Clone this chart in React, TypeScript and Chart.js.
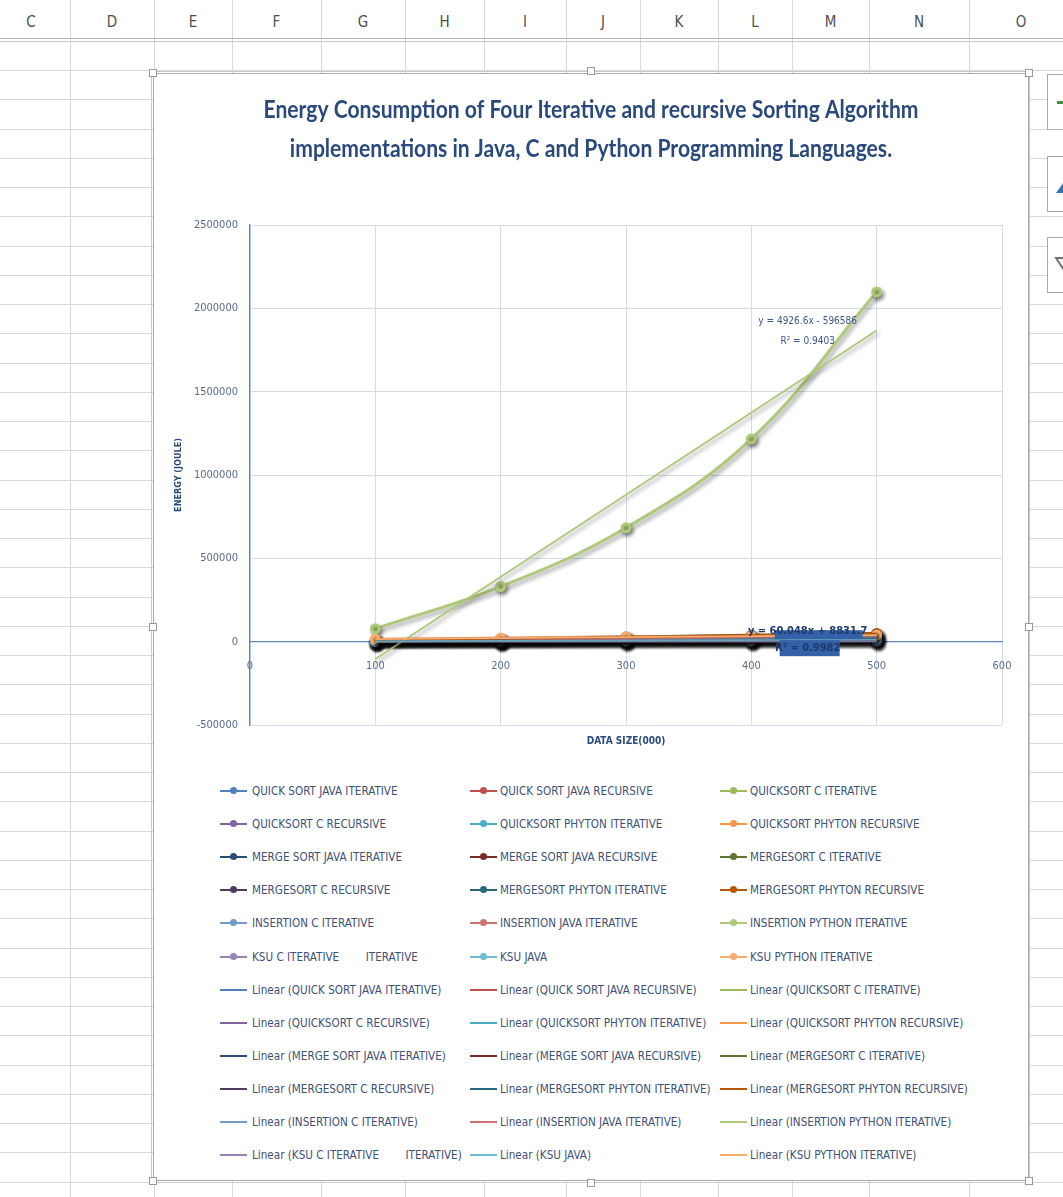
import React, { useEffect, useRef } from "react";
import { Chart, registerables } from "chart.js";

Chart.register(...registerables);

// ---------------- DATA ----------------
const dataSizes = [100, 200, 300, 400, 500];

const seriesNames = [
  "QUICK SORT JAVA ITERATIVE",
  "QUICK SORT JAVA RECURSIVE",
  "QUICKSORT C ITERATIVE",
  "QUICKSORT C RECURSIVE",
  "QUICKSORT PHYTON ITERATIVE",
  "QUICKSORT PHYTON RECURSIVE",
  "MERGE SORT JAVA ITERATIVE",
  "MERGE SORT JAVA RECURSIVE",
  "MERGESORT C ITERATIVE",
  "MERGESORT C RECURSIVE",
  "MERGESORT PHYTON ITERATIVE",
  "MERGESORT PHYTON RECURSIVE",
  "INSERTION C ITERATIVE",
  "INSERTION JAVA ITERATIVE",
  "INSERTION PYTHON ITERATIVE",
  "KSU C ITERATIVE        ITERATIVE",
  "KSU JAVA",
  "KSU PYTHON ITERATIVE",
];

const seriesColors = [
  "#4F81BD", "#C0504D", "#9BBB59", "#8064A2", "#4BACC6", "#F79646",
  "#2C4D75", "#772C2A", "#5F7530", "#4D3B62", "#276A7C", "#B65708",
  "#729ACA", "#CD7371", "#AFC97A", "#9983B5", "#6FBDD1", "#F9AB6B",
];

const quickSortJavaIterative = [3200, 6900, 10800, 14900, 19100];
const quickSortJavaRecursive = [3500, 7400, 11600, 16000, 20500];
const quickSortCIterative = [610, 1290, 2010, 2750, 3520];
const quickSortCRecursive = [520, 1080, 1690, 2310, 2960];
const quickSortPythonIterative = [6900, 14500, 22600, 31000, 39800];
const quickSortPythonRecursive = [7300, 15300, 23800, 32700, 41900];
const mergeSortJavaIterative = [4100, 8500, 13200, 18000, 23100];
const mergeSortJavaRecursive = [4600, 9400, 14500, 19800, 25300];
const mergeSortCIterative = [680, 1400, 2170, 2980, 3800];
const mergeSortCRecursive = [750, 1540, 2390, 3270, 4180];
const mergeSortPythonIterative = [8000, 16700, 25900, 35700, 45800];
const mergeSortPythonRecursive = [8600, 17900, 27800, 38200, 49000];
const insertionCIterative = [1100, 4300, 9700, 17200, 26900];
const insertionJavaIterative = [1600, 6200, 13900, 24800, 38700];
const insertionPythonIterative = [78055, 330622, 683286, 1216682, 2098325];
const ksuCIterative = [400, 820, 1270, 1740, 2230];
const ksuJava = [2300, 4700, 7200, 9800, 12500];
const ksuPythonIterative = [14500, 21000, 27456.5, 32500, 38774];

const seriesValues = [
  quickSortJavaIterative, quickSortJavaRecursive, quickSortCIterative,
  quickSortCRecursive, quickSortPythonIterative, quickSortPythonRecursive,
  mergeSortJavaIterative, mergeSortJavaRecursive, mergeSortCIterative,
  mergeSortCRecursive, mergeSortPythonIterative, mergeSortPythonRecursive,
  insertionCIterative, insertionJavaIterative, insertionPythonIterative,
  ksuCIterative, ksuJava, ksuPythonIterative,
];

// series whose trendline equation labels are visible
const labelledSeries = [14, 17];

const titleLines = [
  "Energy Consumption of Four Iterative and recursive Sorting Algorithm",
  "implementations in Java, C and Python Programming Languages.",
];
const xAxisTitle = "DATA SIZE(000)";
const yAxisTitle = "ENERGY (JOULE)";
const xMin = 0, xMax = 600, xStep = 100;
const yMin = -500000, yMax = 2500000, yStep = 500000;

const columnLetters = ["C", "D", "E", "F", "G", "H", "I", "J", "K", "L", "M", "N", "O"];

// ---------------- STYLE ----------------
const FONT = "'Liberation Sans Narrow', 'DejaVu Sans Condensed', 'Arial Narrow', sans-serif";
const TITLE_FONT = "Lato, 'Open Sans', sans-serif";
const TITLE_COLOR = "#2B4A7C";
const TICK_COLOR = "#5A6C89";
const AXIS_COLOR = "#5D86C4";
const GRID_COLOR = "#D3DCE8";
const LEGEND_TEXT = "#3E5276";
const SHEET_LINE = "#D8D8D8";
const TITLE_WIDTH = 655;
const TITLE_LINE_Y = [37, 76];

const colBounds = [-8, 70, 154, 232, 321, 405, 484, 566, 640, 718, 792, 869, 969, 1073];

function linearFit(xs: number[], ys: number[]) {
  const n = xs.length;
  const mx = xs.reduce((a, b) => a + b, 0) / n;
  const my = ys.reduce((a, b) => a + b, 0) / n;
  let sxy = 0, sxx = 0, syy = 0;
  for (let i = 0; i < n; i++) {
    sxy += (xs[i] - mx) * (ys[i] - my);
    sxx += (xs[i] - mx) ** 2;
    syy += (ys[i] - my) ** 2;
  }
  const slope = sxy / sxx;
  const intercept = my - slope * mx;
  const r2 = syy === 0 ? 1 : (sxy * sxy) / (sxx * syy);
  return { slope, intercept, r2 };
}

function fmtCoef(v: number) {
  const a = Math.abs(v);
  return a >= 1e5 ? String(Math.round(a)) : String(Number(a.toPrecision(5)));
}

const fits = seriesValues.map((vals) => linearFit(dataSizes, vals));

const titlePlugin = {
  id: "excelTitle",
  afterDraw(chart: any) {
    const c = chart.ctx;
    c.save();
    c.font = `bold 25px ${TITLE_FONT}`;
    c.fillStyle = TITLE_COLOR;
    c.textAlign = "center";
    c.textBaseline = "middle";
    const sx = TITLE_WIDTH / c.measureText(titleLines[0]).width;
    const cx = chart.width / 2;
    titleLines.forEach((t, i) => {
      c.save();
      c.translate(cx, TITLE_LINE_Y[i]);
      c.scale(sx, 1);
      c.fillText(t, 0, 0);
      c.restore();
    });
    c.restore();
  },
};

const shadowPlugin = {
  id: "excelShadow",
  beforeDatasetsDraw(chart: any) {
    const c = chart.ctx;
    c.save();
    c.shadowColor = "rgba(0,0,0,0.4)";
    c.shadowBlur = 4;
    c.shadowOffsetX = 2;
    c.shadowOffsetY = 3;
  },
  afterDatasetsDraw(chart: any) {
    chart.ctx.restore();
  },
};

const trendLabelPlugin = {
  id: "trendLabels",
  afterDatasetsDraw(chart: any) {
    const c = chart.ctx;
    const xs = chart.scales.x;
    const ys = chart.scales.y;
    const lastX = dataSizes[dataSizes.length - 1];
    labelledSeries.forEach((si, k) => {
      const f = fits[si];
      const ex = xs.getPixelForValue(lastX);
      const ey = ys.getPixelForValue(f.slope * lastX + f.intercept);
      const cx = ex - 69;
      const cluster = k === labelledSeries.length - 1;
      const y1 = cluster ? ey - 4 : ey - 9;
      const y2 = cluster ? ey + 13 : ey + 11;
      const eq = `y = ${fmtCoef(f.slope)}x ${f.intercept < 0 ? "-" : "+"} ${fmtCoef(f.intercept)}`;
      const r2 = `R² = ${Number(f.r2.toPrecision(4))}`;
      c.save();
      if (cluster) {
        // overlapped cluster of labels near the zero line
        c.fillStyle = "#3461A8";
        c.fillRect(cx - 33, y1 - 1, 88, 9);
        c.fillRect(cx - 28, y2 - 8, 60, 16);
        c.fillStyle = "#1E3A6E";
        c.font = `bold 11px ${FONT}`;
      } else {
        c.fillStyle = "#3D5A8A";
        c.font = `10px ${FONT}`;
      }
      c.textAlign = "center";
      c.textBaseline = "middle";
      c.fillText(eq, cx, y1);
      c.fillText(r2, cx, y2);
      c.restore();
    });
  },
};

function buildDatasets() {
  const series = seriesValues.map((vals, i) => ({
    label: seriesNames[i],
    data: dataSizes.map((x, j) => ({ x, y: vals[j] })),
    borderColor: seriesColors[i],
    backgroundColor: seriesColors[i],
    pointBackgroundColor: seriesColors[i],
    pointBorderColor: seriesColors[i],
    pointRadius: 4,
    pointStyle: "circle",
    borderWidth: 3,
    tension: 0.4,
    xAxisID: "x",
    yAxisID: "y",
    order: 200 - i,
  }));
  const trends = fits.map((f, i) => ({
    label: `Linear (${seriesNames[i]})`,
    data: [dataSizes[0], dataSizes[dataSizes.length - 1]].map((x) => ({ x, y: f.slope * x + f.intercept })),
    borderColor: seriesColors[i],
    backgroundColor: seriesColors[i],
    pointRadius: 0,
    borderWidth: 1.8,
    tension: 0,
    xAxisID: "x",
    yAxisID: "y",
    order: 100 - i,
  }));
  return [...series, ...trends];
}

function LegendSymbol({ color, marker }: { color: string; marker: boolean }) {
  return (
    <div style={{ position: "relative", width: 27, height: 16 }}>
      <div style={{ position: "absolute", left: 0, top: 7, width: 27, height: 2, background: color }} />
      {marker && (
        <div style={{ position: "absolute", left: 10, top: 4, width: 7, height: 7, borderRadius: 4, background: color }} />
      )}
    </div>
  );
}

export default function App() {
  const canvasRef = useRef<HTMLCanvasElement>(null);

  useEffect(() => {
    const chart = new Chart(canvasRef.current as HTMLCanvasElement, {
      type: "line",
      data: { datasets: buildDatasets() as any },
      plugins: [titlePlugin, shadowPlugin, trendLabelPlugin],
      options: {
        responsive: false,
        animation: false,
        layout: { padding: { left: 16, right: 27, top: 152, bottom: 0 } },
        plugins: {
          legend: { display: false },
          tooltip: { enabled: false },
          title: { display: false },
        },
        scales: {
          x: {
            type: "linear",
            min: xMin,
            max: xMax,
            position: "bottom",
            ticks: { display: false, stepSize: xStep },
            grid: { color: GRID_COLOR, drawTicks: false, lineWidth: 1 },
            border: { display: false },
            title: {
              display: true,
              text: xAxisTitle,
              color: TITLE_COLOR,
              font: { family: FONT, size: 10, weight: "bold", lineHeight: 1.2 },
              padding: { top: 4, bottom: 26 },
            },
            afterFit: (s: any) => { s.height = 48; },
          },
          x2: {
            type: "linear",
            min: xMin,
            max: xMax,
            position: { y: 0 },
            ticks: {
              stepSize: xStep,
              color: TICK_COLOR,
              font: { family: FONT, size: 11 },
              padding: 2,
              callback: (v: any) => String(v),
            },
            grid: { display: false, drawTicks: true, tickLength: 16 },
            border: { display: true, color: AXIS_COLOR, width: 1.3 },
          },
          y: {
            type: "linear",
            min: yMin,
            max: yMax,
            ticks: {
              stepSize: yStep,
              color: TICK_COLOR,
              font: { family: FONT, size: 11 },
              padding: 12,
              callback: (v: any) => String(v),
            },
            grid: { color: GRID_COLOR, drawTicks: false, lineWidth: 1 },
            border: { color: AXIS_COLOR, width: 1.3 },
            title: {
              display: true,
              text: yAxisTitle,
              color: TITLE_COLOR,
              font: { family: FONT, size: 9, weight: "bold", lineHeight: 1.2 },
              padding: { top: 4, bottom: 4 },
            },
            afterFit: (s: any) => { s.width = 81; },
          },
        } as any,
      },
    });
    return () => chart.destroy();
  }, []);

  const rowLines: number[] = [];
  for (let y = 70; y < 1197; y += 29.25) rowLines.push(Math.round(y));

  const legendEntries = [
    ...seriesNames.map((nm, i) => ({ text: nm, color: seriesColors[i], marker: true })),
    ...seriesNames.map((nm, i) => ({ text: `Linear (${nm})`, color: seriesColors[i], marker: false })),
  ];
  const legendColSym = [220, 470, 720];
  const legendColText = [252, 500, 750];

  const handles = [
    [153, 73], [591, 71], [1029, 73],
    [153, 627], [1029, 627],
    [153, 1181], [591, 1183], [1029, 1181],
  ];

  return (
    <div style={{ position: "absolute", left: 0, top: 0, width: 1063, height: 1197, overflow: "hidden", background: "#FFFFFF", fontFamily: FONT }}>
      {columnLetters.map((l, i) => (
        <div key={l} style={{ position: "absolute", left: colBounds[i], width: colBounds[i + 1] - colBounds[i], top: 12, height: 20, textAlign: "center", fontSize: 15, color: "#505050", lineHeight: "20px" }}>{l}</div>
      ))}
      {colBounds.slice(1, -1).map((x, i) => (
        <div key={"v" + i} style={{ position: "absolute", left: x, top: 0, width: 1, height: 1197, background: SHEET_LINE }} />
      ))}
      <div style={{ position: "absolute", left: 0, top: 38, width: 1063, height: 1, background: "#B5B5B5" }} />
      <div style={{ position: "absolute", left: 0, top: 41, width: 1063, height: 1, background: "#C8C8C8" }} />
      {rowLines.map((y, i) => (
        <div key={"h" + i} style={{ position: "absolute", left: 0, top: y, width: 1063, height: 1, background: SHEET_LINE }} />
      ))}

      <div style={{ position: "absolute", left: 151, top: 71, width: 879, height: 1112, border: "1px solid #C9C9C9", boxSizing: "border-box" }} />
      <div style={{ position: "absolute", left: 153, top: 73, width: 876, height: 1108, background: "#FFFFFF", border: "1px solid #A9A9A9", boxSizing: "border-box" }} />
      <canvas ref={canvasRef} width={876} height={700} style={{ position: "absolute", left: 153, top: 73 }} />

      {legendEntries.map((e, k) => {
        const row = Math.floor(k / 3);
        const col = k % 3;
        const y = 791 + row * 33.1;
        return (
          <React.Fragment key={"lg" + k}>
            <div style={{ position: "absolute", left: legendColSym[col], top: y - 8 }}>
              <LegendSymbol color={e.color} marker={e.marker} />
            </div>
            <div style={{ position: "absolute", left: legendColText[col], top: y - 8, height: 16, lineHeight: "16px", fontSize: 11.6, color: LEGEND_TEXT, whiteSpace: "pre" }}>{e.text}</div>
          </React.Fragment>
        );
      })}

      {handles.map(([x, y], i) => (
        <div key={"hd" + i} style={{ position: "absolute", left: x - 4, top: y - 4, width: 8, height: 8, background: "#FFFFFF", border: "1px solid #9A9A9A", boxSizing: "border-box" }} />
      ))}

      {[74, 156, 237].map((t, i) => (
        <div key={"btn" + i} style={{ position: "absolute", left: 1047, top: t, width: 30, height: 56, background: "#FFFFFF", border: "1px solid #A9A9A9", boxSizing: "border-box", overflow: "hidden" }}>
          <svg width="30" height="56">
            {i === 0 && <g fill="#3F8F3F"><rect x="9" y="26" width="16" height="3" /><rect x="15" y="20" width="3" height="15" /></g>}
            {i === 1 && <polygon points="8,36 18,22 18,36" fill="#3B6FB6" />}
            {i === 2 && <polygon points="8,20 26,20 18,32 18,40 16,40 16,32" fill="none" stroke="#707070" strokeWidth="2" />}
          </svg>
        </div>
      ))}
    </div>
  );
}
